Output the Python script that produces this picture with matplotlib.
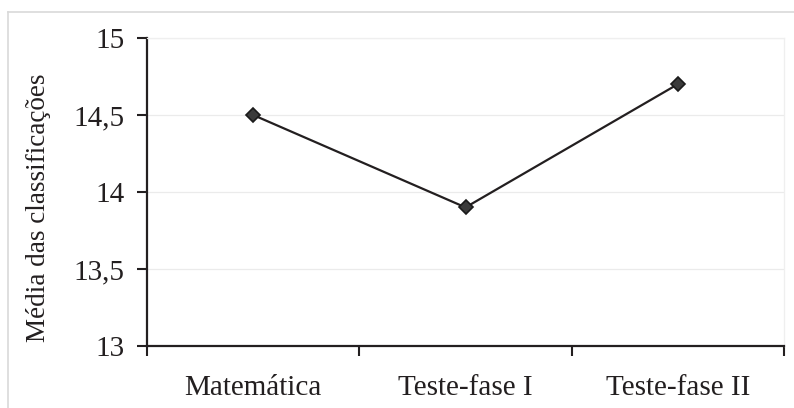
import matplotlib
matplotlib.use("Agg")
import matplotlib.pyplot as plt
from matplotlib.lines import Line2D

categories = ["Matemática", "Teste-fase I", "Teste-fase II"]
values = [14.5, 13.9, 14.7]
y_ticks = [13, 13.5, 14, 14.5, 15]
y_tick_labels = ["13", "13,5", "14", "14,5", "15"]
y_label = "Média das classificações"

plt.rcParams['font.family'] = ['Liberation Serif', 'DejaVu Serif']

fig = plt.figure(figsize=(7.94, 4.08), dpi=100)
ax = fig.add_axes([147/794, 1-346/408, (784-147)/794, (346-38)/408])

x = list(range(len(categories)))
ax.plot(x, values, color='#231f20', lw=1.6, marker='D', markersize=7,
        markerfacecolor='#3a3a3a', markeredgecolor='#1a1a1a', markeredgewidth=1.2, zorder=3)

ax.set_xlim(-0.5, len(categories) - 0.5)
ax.set_ylim(13, 15)
ax.set_yticks(y_ticks)
ax.set_yticklabels(y_tick_labels)
ax.set_xticks(x)
ax.set_xticklabels(categories)
ax.set_xticks([i - 0.5 for i in range(len(categories) + 1)], minor=True)

ax.tick_params(axis='x', which='major', length=0, pad=21, labelsize=21, colors='#231f20')
ax.tick_params(axis='x', which='minor', length=7, width=1.5, direction='out', color='#231f20')
ax.tick_params(axis='y', which='major', length=7, width=1.5, direction='out', pad=9,
               labelsize=21, colors='#231f20')

for yv in y_ticks[1:]:
    ax.axhline(yv, color='#ebebeb', lw=0.9, zorder=0)

for s in ['left', 'bottom']:
    ax.spines[s].set_color('#231f20')
    ax.spines[s].set_linewidth(1.6)
for s in ['top', 'right']:
    ax.spines[s].set_color('#efefef')
    ax.spines[s].set_linewidth(0.9)

fig.text(39/794, 1-208/408, y_label, rotation=90, ha='center', va='center',
         fontsize=19.5, color='#231f20')

# outer frame (light gray) at left and top
fig.add_artist(Line2D([8/794, 8/794], [0, 1-12/408], transform=fig.transFigure,
                      color='#d9d9d9', lw=1.2))
fig.add_artist(Line2D([8/794, 1], [1-12/408, 1-12/408], transform=fig.transFigure,
                      color='#d9d9d9', lw=1.2))

fig.savefig("out.png", dpi=100, facecolor='white')
